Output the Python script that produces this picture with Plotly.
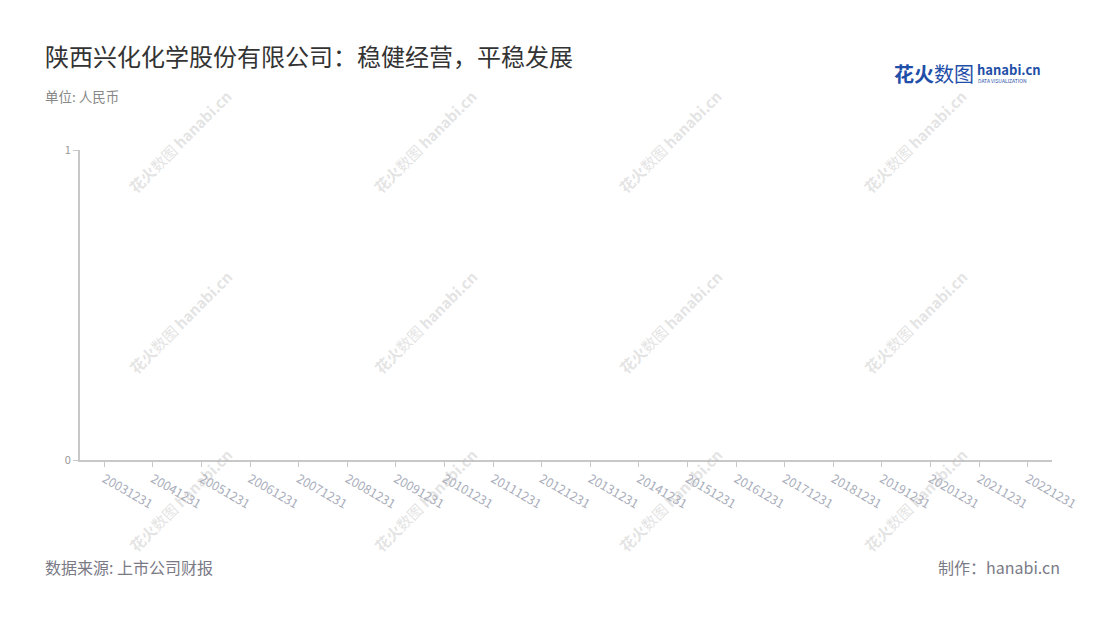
import plotly.graph_objects as go

# 报告期
periods = ['20031231', '20041231', '20051231', '20061231', '20071231',
           '20081231', '20091231', '20101231', '20111231', '20121231',
           '20131231', '20141231', '20151231', '20161231', '20171231',
           '20181231', '20191231', '20201231', '20211231', '20221231']
# 数据为空
values = [None] * len(periods)
y_ticks = [0, 1]

title = '陕西兴化化学股份有限公司：稳健经营，平稳发展'
unit = '单位: 人民币'
source = '数据来源: 上市公司财报'
maker = '制作：hanabi.cn'

font_cn = 'Noto Sans CJK SC, Noto Sans, sans-serif'

# 页面有 8px 的 body 边距
OFF = 8
W, H = 1100, 620
L, T, PW, PH = 80 - OFF, 150 - OFF, 972, 310
R, B = W - L - PW, H - T - PH

fig = go.Figure()
fig.add_trace(go.Bar(x=periods, y=values, marker_color='#5b8ff9', showlegend=False))

fig.update_layout(
    width=W, height=H,
    margin=dict(l=L, r=R, t=T, b=B),
    plot_bgcolor='white', paper_bgcolor='white',
    font=dict(family=font_cn, color='#888'),
    xaxis=dict(
        type='category', categoryorder='array', categoryarray=periods,
        tickvals=periods, range=[-0.5, len(periods) - 0.5],
        showline=True, linecolor='#c8c8c8', linewidth=2,
        ticks='outside', ticklen=5, tickcolor='#c8c8c8',
        tickangle=30, tickfont=dict(size=12.5, color='#a9adbb'),
        showgrid=False, zeroline=False, fixedrange=True,
    ),
    yaxis=dict(
        range=[0, 1], tickvals=y_ticks,
        showline=True, linecolor='#c8c8c8', linewidth=2,
        ticks='outside', ticklen=5, tickcolor='#c8c8c8',
        tickfont=dict(size=11, color='#999'),
        showgrid=True, gridcolor='#dedede', griddash='dash',
        zeroline=False,
    ),
)


def page(x, y):
    # 截图像素坐标 -> paper 坐标
    fx, fy = x - OFF, y - OFF
    return ((fx - L) / PW, 1 - (fy - T) / PH)


def add_page_text(txt, x, y, size, color, xanchor='left', **kw):
    px_, py_ = page(x, y)
    fig.add_annotation(text=txt, x=px_, y=py_, xref='paper', yref='paper',
                       xanchor=xanchor, yanchor='middle', showarrow=False,
                       font=dict(size=size, color=color, family=font_cn), **kw)


# 水印
for wy in [142, 322, 500]:
    for wx in [180, 425, 670, 915]:
        add_page_text('<b>花火</b>数图 <b>hanabi.cn</b>', wx, wy, 15, 'rgba(185,185,185,0.4)',
                      xanchor='center', textangle=-45)

add_page_text(title, 43, 55, 24, '#333')
add_page_text(unit, 43, 96, 13.5, '#888')
add_page_text(source, 43, 567, 16, '#7a7a86')
add_page_text(maker, 1062, 567, 16, '#7a7a86', xanchor='right')

# logo
add_page_text('<b>花火</b>数图', 892, 73, 20, '#1f4fa8')
add_page_text('<b>hanabi.cn</b>', 975, 69, 13, '#1f4fa8')
add_page_text('DATA VISUALIZATION', 976, 80, 5, '#1f4fa8')

fig.write_html('out.html')
